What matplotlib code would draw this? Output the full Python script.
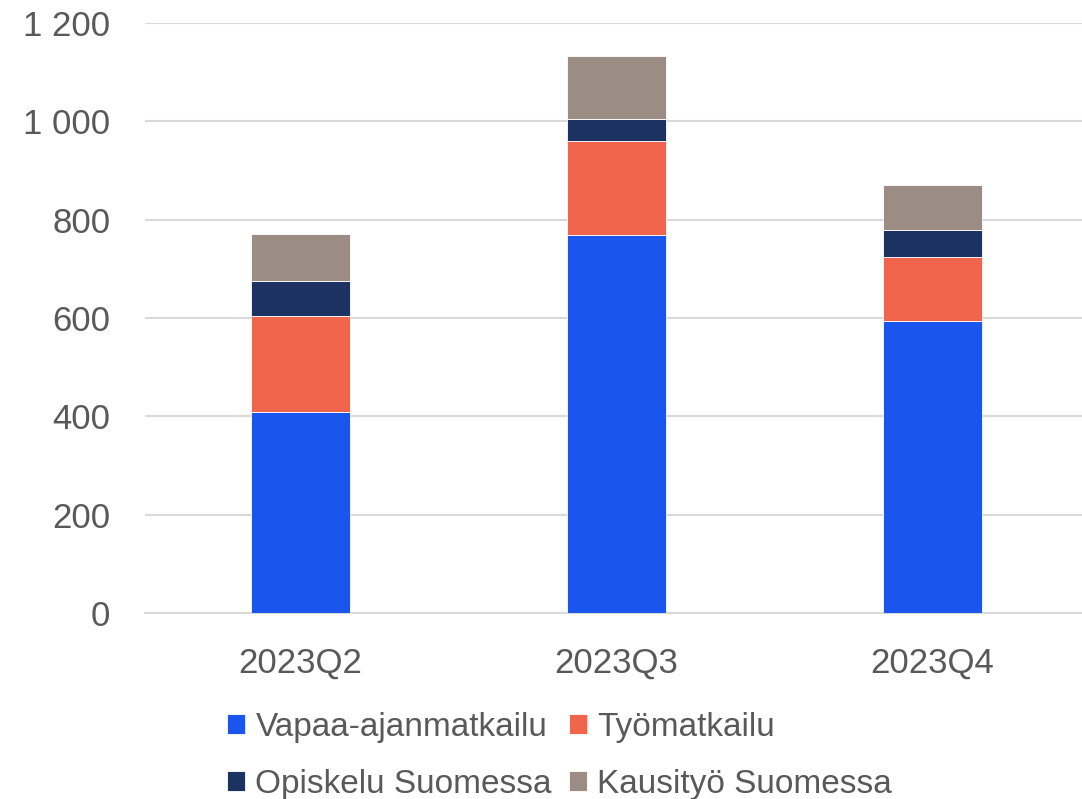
import matplotlib
matplotlib.use('Agg')
import matplotlib.pyplot as plt
import numpy as np

# data
quarters = ["2023Q2", "2023Q3", "2023Q4"]
series = ["Vapaa-ajanmatkailu", "Työmatkailu", "Opiskelu Suomessa", "Kausityö Suomessa"]
vapaa = [409, 769, 594]
tyo = [195, 191, 130]
opiskelu = [71, 45, 55]
kausityo = [96, 128, 91]
colors = ["#1a56ed", "#f2654d", "#1c3261", "#9b8c84"]

plt.rcParams["font.family"] = ["Liberation Sans", "DejaVu Sans"]

fig = plt.figure(figsize=(10.82, 7.99), dpi=100)
ax = fig.add_axes([145 / 1082, 1 - 613 / 799, (1082 - 145) / 1082, (613 - 23) / 799])

x = np.arange(len(quarters))
bottom = np.zeros(len(quarters))
handles = []
for vals, name, col in zip([vapaa, tyo, opiskelu, kausityo], series, colors):
    b = ax.bar(x, vals, width=0.313, bottom=bottom, color=col, label=name,
               edgecolor="white", linewidth=0.6, zorder=3)
    handles.append(b)
    bottom += np.array(vals)

ax.set_xlim(-0.492, 2.473)
ax.set_ylim(0, 1200)
ax.set_yticks(range(0, 1201, 200))
ax.set_yticklabels(["{:,}".format(v).replace(",", " ") for v in range(0, 1201, 200)])
ax.set_xticks(x)
ax.set_xticklabels(quarters)
ax.grid(axis="y", color="#d9d9d9", linewidth=1.5, zorder=0)
for s in ["top", "right", "left"]:
    ax.spines[s].set_visible(False)
ax.spines["bottom"].set_color("#d9d9d9")
ax.spines["bottom"].set_linewidth(1.5)
ax.tick_params(axis="both", length=0, labelsize=25, colors="#595959")
ax.tick_params(axis="y", pad=25)
ax.tick_params(axis="x", pad=24)

# legend fills row by row in the reference, matplotlib fills by column
order = [0, 2, 1, 3]
leg = fig.legend(handles=[handles[i] for i in order], labels=[series[i] for i in order],
                 ncol=2, loc="center", bbox_to_anchor=(0.517, 0.054), frameon=False,
                 prop={"family": ["Liberation Sans Narrow", "Liberation Sans"], "size": 24},
                 handlelength=0.55, handleheight=0.55, handletextpad=0.3,
                 columnspacing=0.5, labelspacing=0.8, labelcolor="#595959")

fig.savefig("out.png", dpi=100)
